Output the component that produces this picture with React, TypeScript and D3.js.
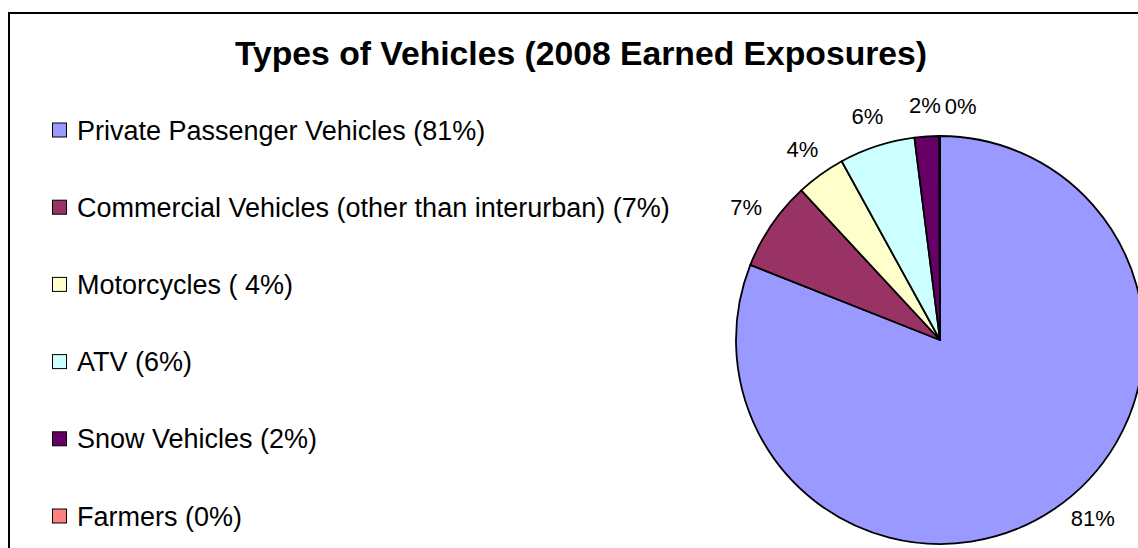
import React from "react";
import * as d3 from "d3";

const title = "Types of Vehicles (2008 Earned Exposures)";
const categories = [
  "Private Passenger Vehicles",
  "Commercial Vehicles (other than interurban)",
  "Motorcycles",
  "ATV",
  "Snow Vehicles",
  "Farmers",
];
const legendLabels = [
  "Private Passenger Vehicles (81%)",
  "Commercial Vehicles (other than interurban) (7%)",
  "Motorcycles ( 4%)",
  "ATV (6%)",
  "Snow Vehicles (2%)",
  "Farmers (0%)",
];
const values = [81.0, 7.1, 3.9, 6.0, 1.95, 0.05];
const pctLabels = ["81%", "7%", "4%", "6%", "2%", "0%"];
const colors = ["#9999FF", "#993366", "#FFFFCC", "#CCFFFF", "#660066", "#FF8080"];

const W = 1138;
const H = 548;
const FONT = "'Liberation Sans', Arial, Helvetica, sans-serif";

export default function App() {
  const cx = 940;
  const cy = 340;
  const r = 204;

  const pie = d3.pie<number>().sort(null).value((d) => d);
  const arcs = pie(values);
  const arcGen = d3.arc<d3.PieArcDatum<number>>().innerRadius(0).outerRadius(r);

  // label placement: on a circle around the pie, slid along it to stay in bounds / avoid overlap
  const labelFont = 22;
  const labelR = 235;
  const maxY = 518.5;
  const pad = 4;
  const capH = 16;
  const textW = (s: string) => {
    let w = 0;
    for (const ch of s) w += ch === "%" ? 0.889 : 0.556;
    return w * labelFont;
  };
  type Box = { x: number; y: number; w: number; h: number };
  const placed: Box[] = [];
  const labels = arcs.map((a, i) => {
    let th = (a.startAngle + a.endAngle) / 2;
    const w = textW(pctLabels[i]);
    const pos = (t: number) => ({ x: cx + labelR * Math.sin(t), y: cy - labelR * Math.cos(t) });
    let p = pos(th);
    if (p.y > maxY) {
      const base = Math.acos((cy - maxY) / labelR);
      th = Math.sin(th) >= 0 ? base : 2 * Math.PI - base;
      p = pos(th);
    }
    const overlaps = (q: { x: number; y: number }) =>
      placed.some(
        (b) =>
          Math.abs(q.x - b.x) < (w + b.w) / 2 + pad &&
          Math.abs(q.y - b.y) < (capH + b.h) / 2 + pad
      );
    let guard = 0;
    while (overlaps(p) && guard < 2000) {
      th += 0.002;
      p = pos(th);
      guard++;
    }
    placed.push({ x: p.x, y: p.y, w, h: capH });
    return { x: p.x, y: p.y, text: pctLabels[i] };
  });

  const legendTop = 139.5;
  const legendStep = 77.2;

  return (
    <svg
      width={W}
      height={H}
      style={{ position: "absolute", left: 0, top: 0, background: "#fff" }}
      fontFamily={FONT}
    >
      <rect x={0} y={0} width={W} height={H} fill="#fff" />
      <rect x={9} y={13} width={W + 200} height={H + 200} fill="none" stroke="#000" strokeWidth={2} />
      <text x={581} y={65} textAnchor="middle" fontSize={33.7} fontWeight="bold" fill="#000">
        {title}
      </text>

      <g>
        {categories.map((c, i) => {
          const base = legendTop + i * legendStep;
          return (
            <g key={c}>
              <rect x={52.5} y={base - 16.5} width={14} height={14} fill={colors[i]} stroke="#000" strokeWidth={1} />
              <text x={77} y={base} fontSize={27} fill="#000">
                {legendLabels[i]}
              </text>
            </g>
          );
        })}
      </g>

      <g transform={`translate(${cx},${cy})`}>
        {arcs.map((a, i) => (
          <path key={i} d={arcGen(a) || ""} fill={colors[i]} stroke="#000" strokeWidth={1.8} strokeLinejoin="round" />
        ))}
      </g>

      <g>
        {labels.map((l, i) => (
          <text key={i} x={l.x} y={l.y + 7.8} textAnchor="middle" fontSize={labelFont} fill="#000">
            {l.text}
          </text>
        ))}
      </g>
    </svg>
  );
}
